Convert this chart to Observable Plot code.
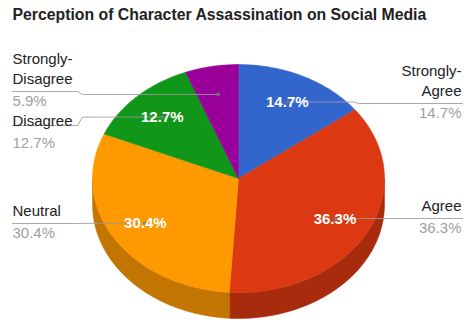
<!DOCTYPE html>
<html><head><meta charset="utf-8">
<script src="https://cdn.jsdelivr.net/npm/d3@7"></script>
<script src="https://cdn.jsdelivr.net/npm/@observablehq/plot@0.6"></script>
<style>
html,body{margin:0;padding:0;background:#fff;}
#chart svg{display:block;}
</style></head><body><div id="chart"></div>
<script>
// ---- data ----
const title = "Perception of Character Assassination on Social Media";
const categories = ["Strongly-Agree", "Agree", "Neutral", "Disagree", "Strongly-Disagree"];
const values = [14.7, 36.3, 30.4, 12.7, 5.9];
const labelNames = ["Strongly-\nAgree", "Agree", "Neutral", "Disagree", "Strongly-\nDisagree"];
const valueLabels = ["14.7%", "36.3%", "30.4%", "12.7%", "5.9%"];
const topColors = ["#3366cc", "#dc3912", "#ff9900", "#109618", "#990099"];
const sideColors = ["#274f9e", "#a82b0d", "#c27500", "#0c7313", "#750075"];

// ---- layout ----
const W = 464, H = 320;
const cx = 238, cy = 178, rx = 146, ry = 114, depth = 26;
const labelSide = ["right", "right", "left", "left", "left"];
const labelLineY = [103, 218, 223, 125, 91];
const labelTextY = [103, 218, 223, 133, 91];
const leftEdge = 12, rightEdge = 462, leftKnee = 77, rightKnee = 358;
const labelR = 0.75;

const pie = d3.pie().sort(null).value(d => d)(values);
const pt = (a, r) => [cx + r * rx * Math.sin(a), cy - r * ry * Math.cos(a)];
const arcPts = (a0, a1) => {
  const n = Math.max(2, Math.ceil((a1 - a0) / (Math.PI / 180)));
  return d3.range(n + 1).map(i => pt(a0 + (a1 - a0) * i / n, 1));
};

// top faces
const tops = [];
pie.forEach((p, i) => {
  const ring = [[cx, cy], ...arcPts(p.startAngle, p.endAngle), [cx, cy]];
  ring.forEach(([x, y]) => tops.push({key: categories[i], x, y}));
});
// side faces (front half only)
const sides = [];
pie.forEach((p, i) => {
  const a0 = Math.max(p.startAngle, Math.PI / 2), a1 = Math.min(p.endAngle, 3 * Math.PI / 2);
  if (a1 <= a0) return;
  const upper = arcPts(a0, a1);
  const lower = upper.map(([x, y]) => [x, y + depth]).reverse();
  [...upper, ...lower, upper[0]].forEach(([x, y]) => sides.push({key: "side-" + categories[i], x, y}));
});

// label anchor points inside slices
const anchors = pie.map((p, i) => {
  const [x, y] = pt((p.startAngle + p.endAngle) / 2, labelR);
  return {i, x, y};
});
const inner = anchors.filter(a => values[a.i] >= 10).map(a => ({...a, text: valueLabels[a.i]}));

// leader lines
const leaders = [];
anchors.forEach(a => {
  const left = labelSide[a.i] === "left";
  const ly = labelLineY[a.i];
  const edge = left ? leftEdge : rightEdge;
  const knee = left ? leftKnee : rightKnee;
  const pts = [[edge, ly], [knee, ly], [knee + (left ? 5 : -5), a.y], [a.x, a.y]];
  pts.forEach(([x, y]) => leaders.push({key: categories[a.i], x, y}));
});
const outer = anchors.map(a => ({
  side: labelSide[a.i],
  x: labelSide[a.i] === "left" ? leftEdge : rightEdge - 1,
  y: labelTextY[a.i],
  name: labelNames[a.i],
  pct: valueLabels[a.i]
}));
const outerL = outer.filter(d => d.side === "left");
const outerR = outer.filter(d => d.side === "right");

const nameOpts = {x: "x", y: d => d.y - 8, text: "name", lineAnchor: "bottom", lineHeight: 1.33, fontSize: 15, fill: "#222"};
const pctOpts = {x: "x", y: d => d.y + 4, text: "pct", lineAnchor: "top", fontSize: 15, fill: "#a0a0a0"};

const chart = Plot.plot({
  width: W, height: H,
  margin: 0,
  x: {domain: [0, W], range: [0, W], axis: null},
  y: {domain: [0, H], range: [0, H], axis: null},
  color: {
    domain: [...categories, ...categories.map(c => "side-" + c)],
    range: [...topColors, ...sideColors]
  },
  style: {fontFamily: "'Liberation Sans', Arial, sans-serif", background: "#fff"},
  marks: [
    Plot.line(sides, {x: "x", y: "y", z: "key", fill: "key", stroke: "key", strokeWidth: 0.5, curve: "linear"}),
    Plot.line(tops, {x: "x", y: "y", z: "key", fill: "key", stroke: "key", strokeWidth: 0.5, curve: "linear"}),
    Plot.line(leaders, {x: "x", y: "y", z: "key", stroke: "#9a9a9a", strokeWidth: 1, strokeOpacity: 0.85}),
    Plot.dot(anchors, {x: "x", y: "y", r: 2, fill: "#777", fillOpacity: 0.8}),
    Plot.text(inner, {x: "x", y: "y", text: "text", fill: "#fff", fontSize: 15, fontWeight: "bold"}),
    Plot.text(outerL, {...nameOpts, textAnchor: "start"}),
    Plot.text(outerR, {...nameOpts, textAnchor: "end"}),
    Plot.text(outerL, {...pctOpts, textAnchor: "start"}),
    Plot.text(outerR, {...pctOpts, textAnchor: "end"}),
    Plot.text([title], {frameAnchor: "top-left", dx: 12, dy: 8, lineAnchor: "top", fontSize: 15.8, fontWeight: "bold", fill: "#222"})
  ]
});
document.getElementById("chart").appendChild(chart);
</script>
</body></html>
